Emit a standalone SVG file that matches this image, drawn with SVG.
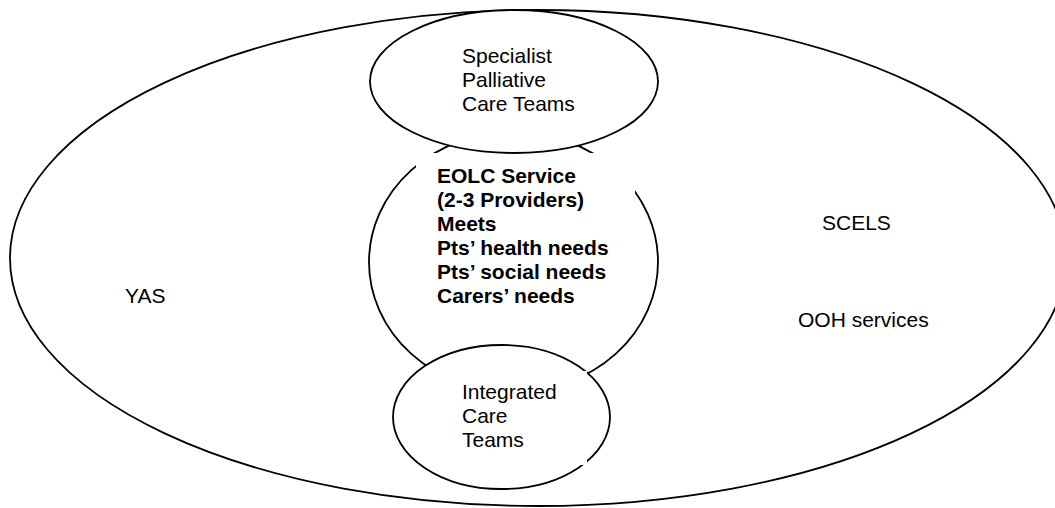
<svg xmlns="http://www.w3.org/2000/svg" width="1055" height="508" viewBox="0 0 1055 508">
  <style>
    .shape { fill: #ffffff; stroke: #000000; stroke-width: 1.8; }
    .mask { fill: #ffffff; stroke: none; }
    .t { font-family: "Liberation Sans", Arial, sans-serif; font-size: 21px; fill: #000000; }
    .b { font-weight: bold; }
  </style>
  <rect x="0" y="0" width="1055" height="508" fill="#ffffff"/>
  <g id="outer">
    <ellipse class="shape" cx="538" cy="258" rx="528" ry="248"/>
    <text class="t" x="125" y="303">YAS</text>
    <text class="t" x="822" y="230">SCELS</text>
    <text class="t" x="798" y="327">OOH services</text>
  </g>
  <g id="eolc">
    <ellipse class="shape" cx="513.5" cy="262" rx="144.5" ry="130"/>
    <rect class="mask" x="416" y="153" width="219" height="172"/>
    <text class="t b" x="437">
      <tspan x="437" y="183">EOLC Service</tspan>
      <tspan x="437" y="207">(2-3 Providers)</tspan>
      <tspan x="437" y="231">Meets</tspan>
      <tspan x="437" y="255">Pts’ health needs</tspan>
      <tspan x="437" y="279">Pts’ social needs</tspan>
      <tspan x="437" y="303">Carers’ needs</tspan>
    </text>
  </g>
  <g id="specialist">
    <ellipse class="shape" cx="514" cy="81.5" rx="144" ry="71.5"/>
    <text class="t">
      <tspan x="462" y="63">Specialist</tspan>
      <tspan x="462" y="87">Palliative</tspan>
      <tspan x="462" y="111">Care Teams</tspan>
    </text>
  </g>
  <g id="integrated">
    <ellipse class="shape" cx="501.5" cy="417" rx="108.5" ry="72"/>
    <rect class="mask" x="445" y="371" width="142" height="94"/>
    <text class="t">
      <tspan x="462" y="399">Integrated</tspan>
      <tspan x="462" y="423">Care</tspan>
      <tspan x="462" y="447">Teams</tspan>
    </text>
  </g>
  <g id="connectors"></g>
</svg>
